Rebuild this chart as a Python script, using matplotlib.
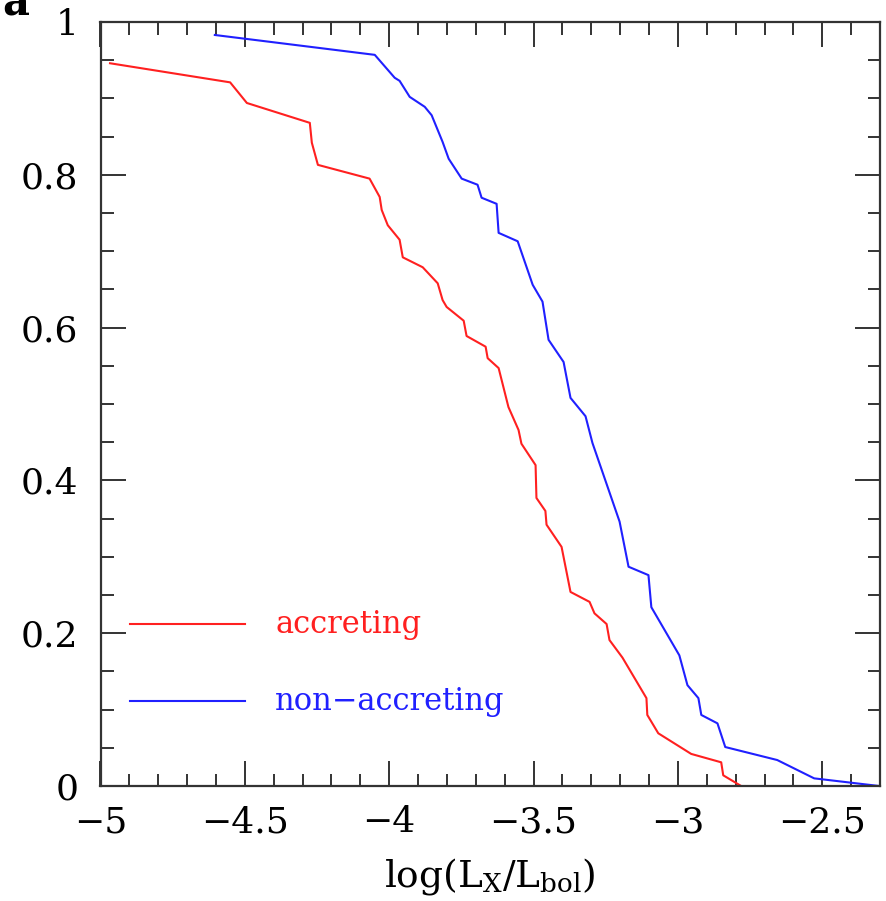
### Cumulative fraction of stars vs log(Lx/Lbol) for accreting and non-accreting samples.

import numpy as np
import matplotlib
matplotlib.use("Agg")
import matplotlib.pyplot as plt
from matplotlib.ticker import MultipleLocator

# accreting (red) curve
acc_x = [-4.967, -4.551, -4.493, -4.275, -4.268, -4.247, -4.068, -4.033, -4.026,
         -4.005, -3.964, -3.953, -3.884, -3.832, -3.815, -3.801, -3.742, -3.732,
         -3.666, -3.659, -3.621, -3.587, -3.552, -3.542, -3.493, -3.490, -3.459,
         -3.455, -3.403, -3.372, -3.306, -3.289, -3.247, -3.237, -3.192, -3.109,
         -3.106, -3.068, -2.954, -2.850, -2.843, -2.781]
acc_y = [0.946, 0.921, 0.894, 0.868, 0.842, 0.813, 0.795, 0.771, 0.754,
         0.734, 0.715, 0.692, 0.679, 0.658, 0.636, 0.627, 0.609, 0.589,
         0.575, 0.560, 0.547, 0.496, 0.466, 0.448, 0.420, 0.377, 0.360,
         0.342, 0.313, 0.254, 0.241, 0.226, 0.212, 0.191, 0.168, 0.115,
         0.093, 0.069, 0.042, 0.031, 0.014, 0.0]

# non-accreting (blue) curve
non_x = [-4.604, -4.050, -3.981, -3.964, -3.929, -3.877, -3.853, -3.815, -3.794,
         -3.749, -3.694, -3.680, -3.628, -3.621, -3.555, -3.503, -3.469, -3.448,
         -3.396, -3.372, -3.320, -3.296, -3.202, -3.171, -3.102, -3.092, -2.995,
         -2.967, -2.929, -2.919, -2.863, -2.836, -2.656, -2.528, -2.303]
non_y = [0.983, 0.957, 0.927, 0.923, 0.902, 0.889, 0.878, 0.843, 0.821,
         0.795, 0.787, 0.770, 0.762, 0.724, 0.713, 0.656, 0.634, 0.584,
         0.555, 0.508, 0.484, 0.449, 0.346, 0.287, 0.276, 0.234, 0.171,
         0.132, 0.115, 0.093, 0.082, 0.051, 0.034, 0.010, 0.0]

labels = ["accreting", "non\u2212accreting"]
colors = ["#ff2020", "#2020ff"]

plt.rcParams["font.family"] = "DejaVu Serif"
plt.rcParams["mathtext.fontset"] = "dejavuserif"

fig = plt.figure(figsize=(8.86, 9.01), dpi=100)
fig.subplots_adjust(left=100.5 / 886, right=880 / 886, top=1 - 22 / 901, bottom=1 - 786 / 901)
ax = fig.add_subplot(111)

ax.plot(acc_x, acc_y, color=colors[0], lw=1.5)
ax.plot(non_x, non_y, color=colors[1], lw=1.5)

ax.set_xlim(-5, -2.3)
ax.set_ylim(0, 1)
ax.xaxis.set_major_locator(MultipleLocator(0.5))
ax.xaxis.set_minor_locator(MultipleLocator(0.1))
ax.yaxis.set_major_locator(MultipleLocator(0.2))
ax.yaxis.set_minor_locator(MultipleLocator(0.05))
ax.xaxis.set_major_formatter(plt.FuncFormatter(lambda v, p: f"{v:g}".replace("-", "\u2212")))
ax.yaxis.set_major_formatter(plt.FuncFormatter(lambda v, p: f"{v:g}"))

for s in ax.spines.values():
    s.set_linewidth(1.6)
    s.set_color("#333333")
ax.tick_params(which="both", direction="in", top=True, right=True, color="#333333", width=1.4)
ax.tick_params(which="major", length=18, labelsize=26, pad=14)
ax.tick_params(which="minor", length=9)
ax.tick_params(axis="y", which="major", pad=16)

ax.set_xlabel(r"log(L$_{\rm X}$/L$_{\rm bol}$)", fontsize=27, labelpad=12)

# legend keys drawn by hand, as in the original
for i, (lab, c) in enumerate(zip(labels, colors)):
    yk = 0.212 - i * 0.101
    ax.plot([0.038, 0.185], [yk, yk], color=c, lw=1.5, transform=ax.transAxes)
    ax.text(0.224, yk, lab, color=c, fontsize=22, va="center", ha="left", transform=ax.transAxes)

# panel letter, cut off at the top edge
fig.text(0.002, 1 - 15 / 901, "a", fontsize=30, fontweight="bold", va="baseline", ha="left")

fig.savefig("out.png", dpi=100)
